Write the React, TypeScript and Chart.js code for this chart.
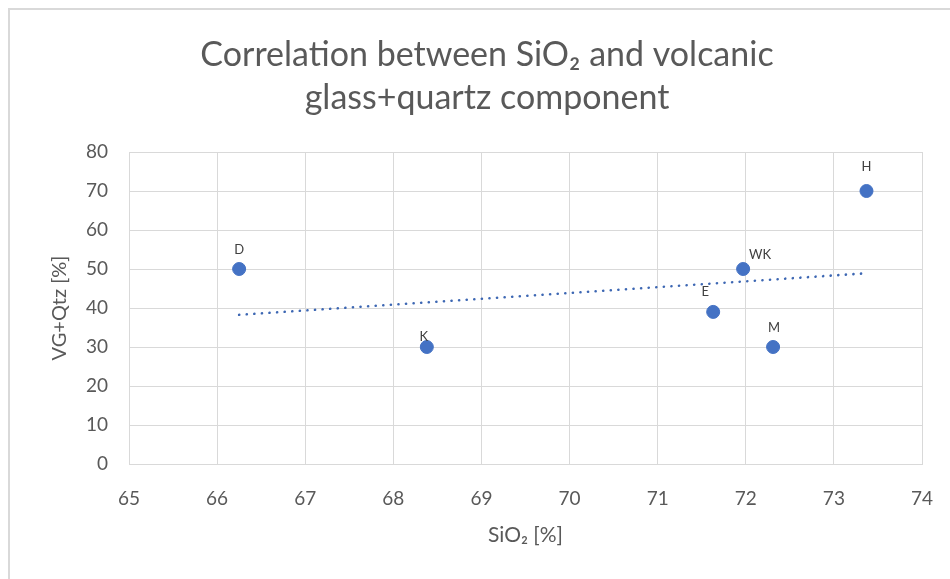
import React, { useEffect, useRef } from "react";
import { Chart, registerables } from "chart.js";

Chart.register(...registerables);

// ---- data ----
const sampleLabels = ["D", "K", "E", "WK", "M", "H"];
const sio2Values = [66.25, 68.38, 71.63, 71.97, 72.31, 73.37];
const vgQtzValues = [50, 30, 39, 50, 30, 70];
const xTicks = [65, 66, 67, 68, 69, 70, 71, 72, 73, 74];
const yTicks = [0, 10, 20, 30, 40, 50, 60, 70, 80];
// label placement (px offsets from each point)
const labelOffsetX = [0, -3, -8, 17, 1, 0];
const labelOffsetY = [-19, -10, -20, -14, -19, -24];

const titleLines = ["Correlation between SiO\u2082 and volcanic", "glass+quartz component"];
const xTitle = "SiO\u2082 [%]";
const yTitle = "VG+Qtz [%]";

// linear trendline (least squares) from the series
function trend() {
  const n = sio2Values.length;
  const mx = sio2Values.reduce((a, b) => a + b, 0) / n;
  const my = vgQtzValues.reduce((a, b) => a + b, 0) / n;
  let sxy = 0, sxx = 0;
  for (let i = 0; i < n; i++) {
    sxy += (sio2Values[i] - mx) * (vgQtzValues[i] - my);
    sxx += (sio2Values[i] - mx) ** 2;
  }
  const b = sxy / sxx;
  const a = my - b * mx;
  const x0 = Math.min(...sio2Values);
  const x1 = Math.max(...sio2Values);
  return [
    { x: x0, y: a + b * x0 },
    { x: x1, y: a + b * x1 },
  ];
}

const FONT = "Lato, 'Open Sans', sans-serif";
const TEXT = "#595959";
const GRID = "#d9d9d9";
const BLUE = "#4472C4";

const framePlugin = {
  id: "frame",
  beforeDraw(chart: any) {
    const ctx = chart.ctx;
    ctx.save();
    ctx.fillStyle = "#ffffff";
    ctx.fillRect(0, 0, chart.width, chart.height);
    ctx.fillStyle = "#d9d9d9";
    ctx.fillRect(8, 8, chart.width - 8, 2);
    ctx.fillRect(8, 8, 2, chart.height - 8);
    // chart title (the Excel frame is wider than the visible crop, so it is centred right of middle)
    ctx.fillStyle = TEXT;
    ctx.font = "34px " + FONT;
    ctx.textAlign = "center";
    ctx.textBaseline = "middle";
    titleLines.forEach((line, i) => ctx.fillText(line, 487, 55 + i * 43));
    ctx.restore();
  },
};

const labelPlugin = {
  id: "pointLabels",
  afterDatasetsDraw(chart: any) {
    const meta = chart.getDatasetMeta(1);
    const ctx = chart.ctx;
    ctx.save();
    ctx.font = "13px " + FONT;
    ctx.fillStyle = "#404040";
    ctx.textAlign = "center";
    ctx.textBaseline = "middle";
    meta.data.forEach((el: any, i: number) => {
      ctx.fillText(sampleLabels[i], el.x + labelOffsetX[i], el.y + labelOffsetY[i]);
    });
    ctx.restore();
  },
};

export default function App() {
  const ref = useRef<HTMLCanvasElement>(null);
  useEffect(() => {
    if (!ref.current) return;
    const chart = new Chart(ref.current, {
      type: "scatter",
      data: {
        datasets: [
          {
            type: "line",
            data: trend(),
            borderColor: "#3d67b3",
            borderWidth: 2.6,
            borderDash: [0.1, 7.5],
            borderCapStyle: "round",
            pointRadius: 0,
            fill: false,
          } as any,
          {
            data: sio2Values.map((x, i) => ({ x, y: vgQtzValues[i] })),
            backgroundColor: BLUE,
            borderColor: BLUE,
            pointRadius: 6.5,
            pointHoverRadius: 6.5,
          },
        ],
      },
      options: {
        responsive: false,
        animation: false,
        layout: { padding: { left: 0, right: 28, top: 152, bottom: 0 } },
        plugins: {
          legend: { display: false },
          tooltip: { enabled: false },
          title: { display: false },
        },
        scales: {
          x: {
            type: "linear",
            min: xTicks[0],
            max: xTicks[xTicks.length - 1],
            afterBuildTicks: (s: any) => {
              s.ticks = xTicks.map((v) => ({ value: v }));
            },
            afterFit: (s: any) => {
              s.height = 115;
              s.paddingLeft = 0;
              s.paddingRight = 0;
            },
            grid: { color: GRID, drawTicks: false },
            border: { color: GRID, width: 1 },
            ticks: { color: TEXT, font: { family: FONT, size: 19 }, padding: 23 },
            title: {
              display: true,
              text: xTitle,
              color: TEXT,
              font: { family: FONT, size: 21 },
              padding: { top: 0, bottom: 31 },
            },
          },
          y: {
            type: "linear",
            min: yTicks[0],
            max: yTicks[yTicks.length - 1],
            afterBuildTicks: (s: any) => {
              s.ticks = yTicks.map((v) => ({ value: v }));
            },
            afterFit: (s: any) => {
              s.width = 129;
              s.paddingTop = 0;
              s.paddingBottom = 0;
            },
            grid: { color: GRID, drawTicks: false },
            border: { color: GRID, width: 1 },
            ticks: { color: TEXT, font: { family: FONT, size: 19 }, padding: 21 },
            title: {
              display: true,
              text: yTitle,
              color: TEXT,
              font: { family: FONT, size: 20 },
              padding: { top: 48, bottom: 0 },
            },
          },
        },
      },
      plugins: [framePlugin, labelPlugin],
    } as any);
    return () => chart.destroy();
  }, []);
  return (
    <div style={{ position: "absolute", left: 0, top: 0, width: 950, height: 579 }}>
      <canvas ref={ref} width={950} height={579} />
    </div>
  );
}
